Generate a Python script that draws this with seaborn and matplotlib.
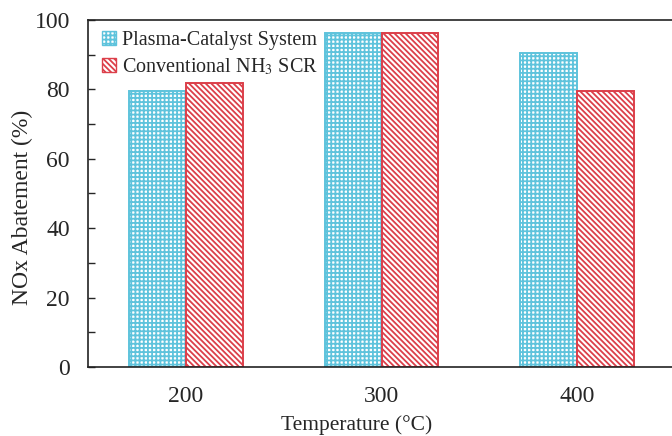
import matplotlib
matplotlib.use("Agg")
import matplotlib.pyplot as plt
import seaborn as sns
import pandas as pd
from matplotlib.patches import Patch

temperatures = ["200", "300", "400"]
plasma_catalyst = [79.5, 96.3, 90.5]
conventional_scr = [81.8, 96.3, 79.5]
series_names = ["Plasma-Catalyst System", "Conventional NH$_3$ SCR"]

df = pd.DataFrame({
    "Temperature": temperatures * 2,
    "Abatement": plasma_catalyst + conventional_scr,
    "Series": [series_names[0]] * 3 + [series_names[1]] * 3,
})

sns.set_style("ticks")
plt.rcParams["font.family"] = ["Liberation Serif", "DejaVu Serif"]
plt.rcParams["mathtext.fontset"] = "stix"
plt.rcParams["hatch.linewidth"] = 1.3

colors = {series_names[0]: "#5ec3dc", series_names[1]: "#dc3f4a"}
hatches = {series_names[0]: "++++", series_names[1]: "\\\\\\\\\\\\"}

fig = plt.figure(figsize=(6.72, 4.36), dpi=100)
ax = fig.add_axes([88 / 672, 1 - 367 / 436, (675 - 88) / 672, (367 - 20) / 436])

sns.barplot(data=df, x="Temperature", y="Abatement", hue="Series",
            hue_order=series_names, order=temperatures, width=0.58,
            palette=["white", "white"], ax=ax, legend=False)

for container, name in zip(ax.containers, series_names):
    for bar in container:
        bar.set_facecolor("white")
        bar.set_edgecolor(colors[name])
        bar.set_hatch(hatches[name])
        bar.set_linewidth(1.4)

ax.set_ylim(0, 100)
ax.set_xlim(-0.5, 2.5)
ax.set_yticks([0, 20, 40, 60, 80, 100])
ax.set_yticks([10, 30, 50, 70, 90], minor=True)
ax.tick_params(axis="y", direction="in", length=5, width=1, labelsize=17, pad=13)
ax.tick_params(axis="y", which="minor", direction="in", length=5, width=1)
ax.tick_params(axis="x", length=0, labelsize=17, pad=14)
ax.set_xlabel("Temperature (°C)", fontsize=15.5)
ax.set_ylabel("NOx Abatement (%)", fontsize=17)
ax.xaxis.set_label_coords(0.457, -0.138)
ax.yaxis.set_label_coords(-0.093, 0.46)
for side in ["left", "bottom", "top", "right"]:
    ax.spines[side].set_visible(True)
    ax.spines[side].set_linewidth(1.2)
    ax.spines[side].set_color("#222222")

handles = [Patch(facecolor="white", edgecolor=colors[n], hatch=hatches[n], label=n)
           for n in series_names]
ax.legend(handles=handles, loc="upper left", bbox_to_anchor=(0.0, 1.01),
          frameon=False, fontsize=14.5, handlelength=0.7, handleheight=0.7,
          handletextpad=0.3, labelspacing=0.35, borderaxespad=0.3)

fig.savefig("out.png", dpi=100)
